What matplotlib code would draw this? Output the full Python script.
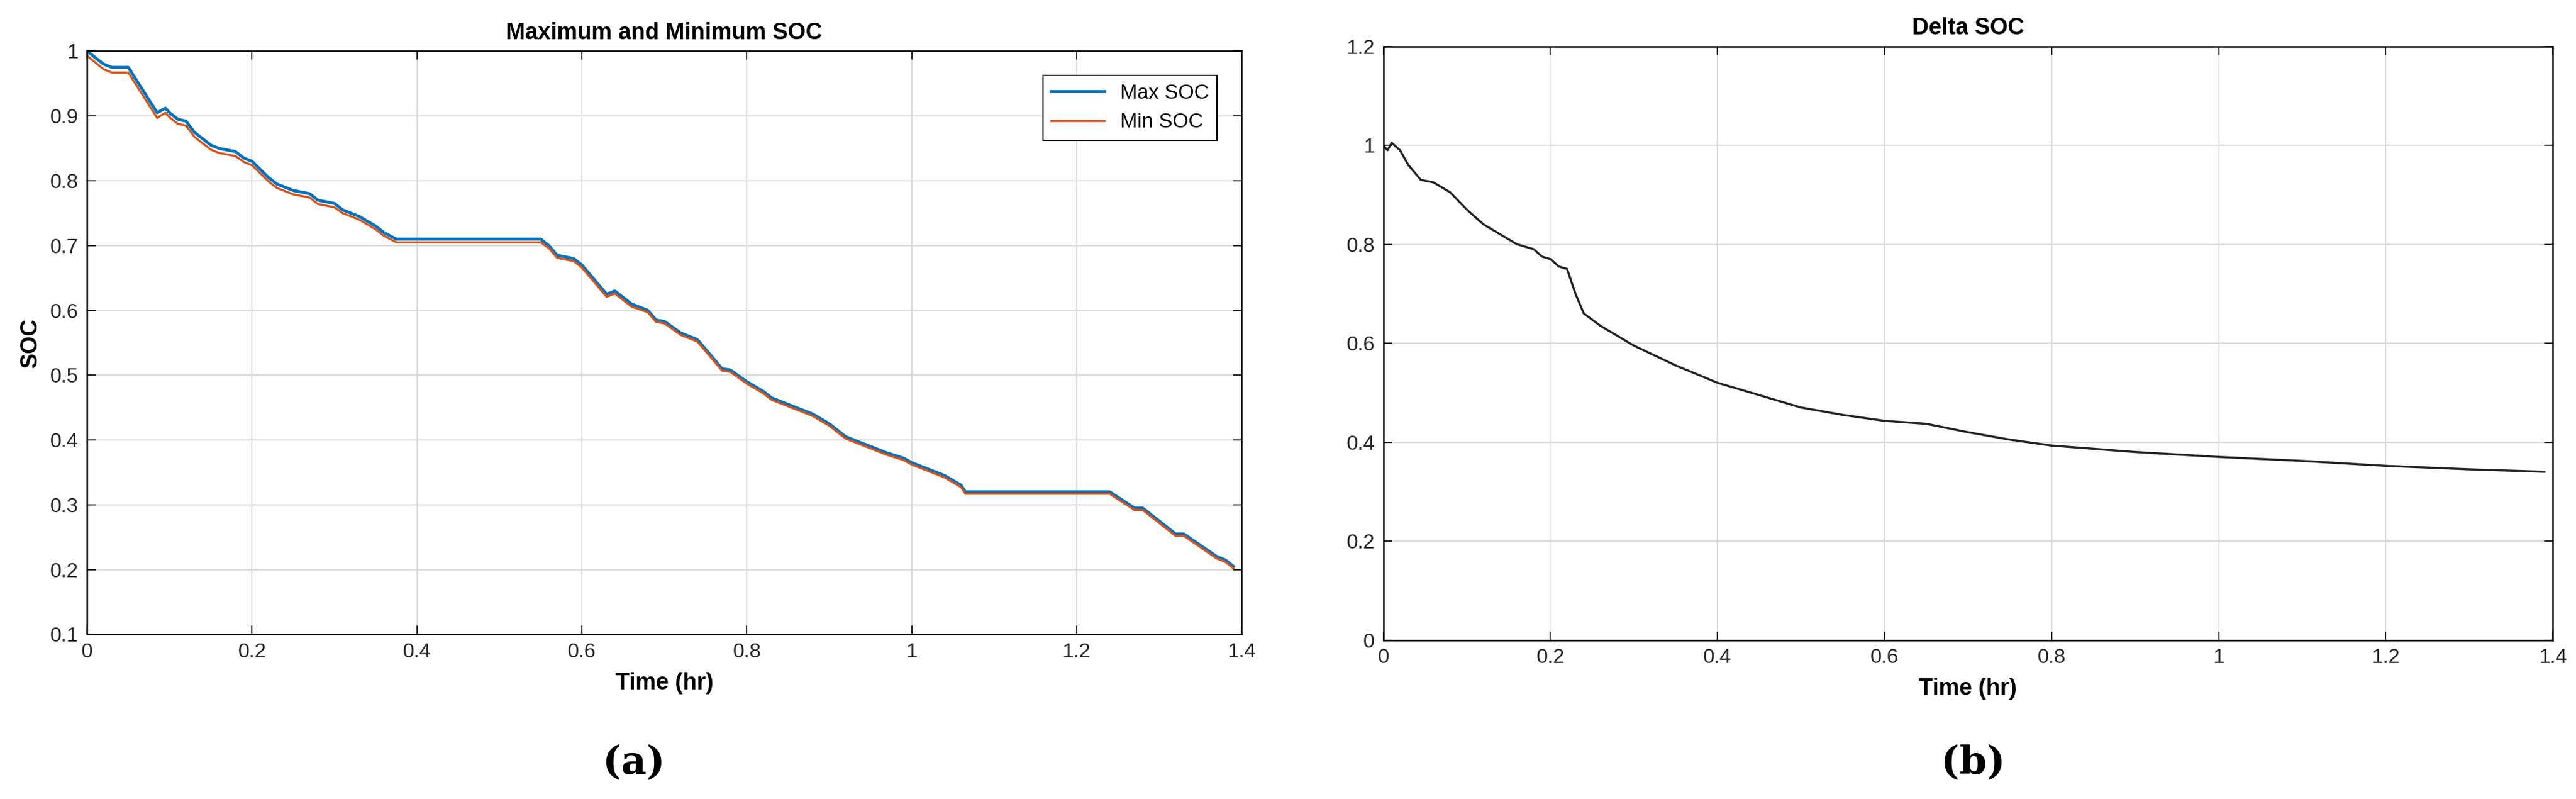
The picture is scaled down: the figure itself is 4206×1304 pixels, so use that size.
import matplotlib
matplotlib.use("Agg")
import matplotlib.pyplot as plt

t_soc = [0,0.02,0.03,0.05,0.06,0.085,0.095,0.1,0.11,0.12,0.13,0.14,0.15,0.16,0.18,0.19,0.2,0.22,0.23,0.25,0.27,0.28,0.3,0.31,0.33,0.35,0.36,0.375,0.55,0.56,0.57,0.59,0.6,0.63,0.64,0.66,0.68,0.69,0.7,0.72,0.73,0.74,0.77,0.78,0.8,0.82,0.83,0.85,0.87,0.88,0.9,0.92,0.95,0.97,0.99,1.0,1.02,1.04,1.06,1.065,1.24,1.27,1.28,1.32,1.33,1.37,1.38,1.39]
max_soc = [1.0,0.98,0.975,0.975,0.955,0.905,0.912,0.905,0.895,0.892,0.875,0.865,0.855,0.85,0.845,0.835,0.83,0.805,0.795,0.785,0.78,0.77,0.765,0.755,0.745,0.73,0.72,0.71,0.71,0.7,0.685,0.68,0.67,0.625,0.63,0.61,0.6,0.585,0.583,0.565,0.56,0.555,0.51,0.508,0.49,0.475,0.465,0.455,0.445,0.44,0.425,0.405,0.39,0.38,0.372,0.365,0.355,0.345,0.33,0.32,0.32,0.295,0.295,0.255,0.255,0.22,0.215,0.205]
min_soc = [0.993,0.972,0.967,0.967,0.947,0.897,0.905,0.898,0.888,0.885,0.868,0.858,0.848,0.843,0.838,0.829,0.824,0.799,0.789,0.779,0.774,0.764,0.759,0.75,0.74,0.725,0.715,0.705,0.705,0.696,0.681,0.676,0.666,0.621,0.626,0.606,0.597,0.582,0.58,0.562,0.557,0.552,0.507,0.505,0.487,0.472,0.462,0.452,0.442,0.437,0.422,0.402,0.387,0.377,0.369,0.362,0.352,0.342,0.327,0.317,0.317,0.292,0.292,0.252,0.252,0.217,0.212,0.202]

t_delta = [0,0.005,0.01,0.02,0.03,0.045,0.06,0.08,0.1,0.12,0.14,0.16,0.18,0.19,0.2,0.21,0.22,0.23,0.24,0.26,0.28,0.3,0.35,0.4,0.45,0.5,0.55,0.6,0.65,0.7,0.75,0.8,0.9,1.0,1.1,1.2,1.3,1.39]
delta_soc = [1.0,0.99,1.005,0.99,0.96,0.93,0.925,0.905,0.87,0.84,0.82,0.8,0.79,0.775,0.77,0.755,0.75,0.7,0.66,0.635,0.615,0.595,0.555,0.52,0.495,0.47,0.455,0.443,0.437,0.42,0.405,0.393,0.38,0.37,0.362,0.352,0.345,0.34]

plt.rcParams['font.family'] = ['Liberation Sans', 'DejaVu Sans']
fig = plt.figure(figsize=(42.06, 13.04), dpi=100)
ax1 = fig.add_axes([0.0338, 0.206, 0.4482, 0.730])
ax2 = fig.add_axes([0.537, 0.199, 0.454, 0.743])

def style(ax):
    ax.grid(True, color='#dcdcdc', linewidth=1.5)
    ax.set_axisbelow(True)
    ax.tick_params(direction='in', length=10, width=1.5, labelsize=24, top=True, right=True, pad=10, colors='#262626')
    for s in ax.spines.values():
        s.set_linewidth(1.8)
    ax.set_xlim(0, 1.4)
    ax.set_xticks([0,0.2,0.4,0.6,0.8,1,1.2,1.4])
    ax.set_xticklabels(['0','0.2','0.4','0.6','0.8','1','1.2','1.4'])
    ax.set_xlabel('Time (hr)', fontsize=27, fontweight='bold', labelpad=12)

ax1.plot(t_soc, max_soc, color='#0072BD', lw=3.5, label='Max SOC')
ax1.plot(t_soc, min_soc, color='#D95319', lw=2.5, label='Min SOC')
style(ax1)
ax1.set_ylim(0.1, 1.0)
ax1.set_yticks([0.1,0.2,0.3,0.4,0.5,0.6,0.7,0.8,0.9,1.0])
ax1.set_yticklabels(['0.1','0.2','0.3','0.4','0.5','0.6','0.7','0.8','0.9','1'])
ax1.set_ylabel('SOC', fontsize=27, fontweight='bold', labelpad=10)
ax1.set_title('Maximum and Minimum SOC', fontsize=27, fontweight='bold', pad=14)
leg = ax1.legend(loc='upper right', fontsize=24, fancybox=False, edgecolor='black',
                 framealpha=1, handlelength=2.6, borderaxespad=1.2)
leg.get_frame().set_linewidth(1.5)

ax2.plot(t_delta, delta_soc, color='#222222', lw=2.5)
style(ax2)
ax2.set_ylim(0, 1.2)
ax2.set_yticks([0,0.2,0.4,0.6,0.8,1.0,1.2])
ax2.set_yticklabels(['0','0.2','0.4','0.6','0.8','1','1.2'])
ax2.set_title('Delta SOC', fontsize=27, fontweight='bold', pad=14)

fig.text(0.246, 0.045, '(a)', fontsize=46, family='DejaVu Serif', fontweight='bold', ha='center', va='center')
fig.text(0.766, 0.045, '(b)', fontsize=46, family='DejaVu Serif', fontweight='bold', ha='center', va='center')
fig.savefig('out.png', dpi=100, facecolor='white')
